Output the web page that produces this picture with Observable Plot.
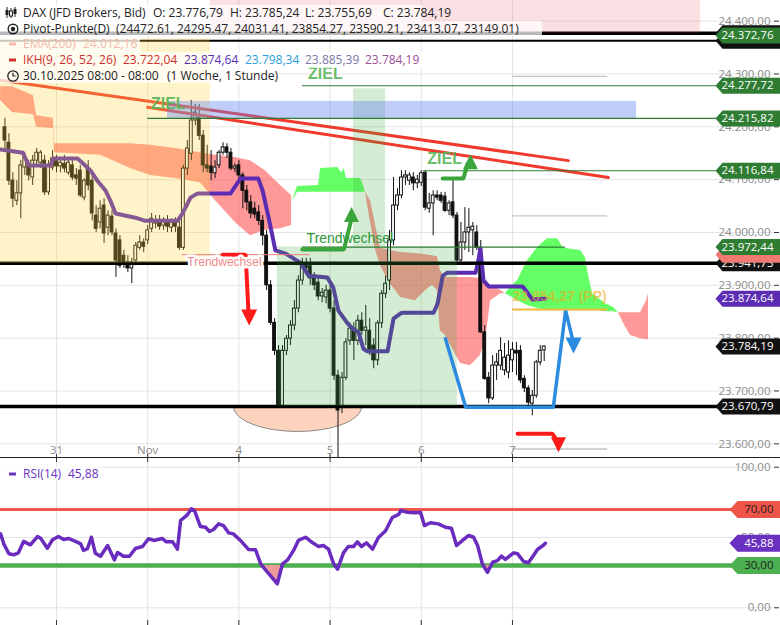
<!DOCTYPE html>
<html>
<head>
<meta charset="utf-8">
<script src="https://cdn.jsdelivr.net/npm/d3@7"></script>
<script src="https://cdn.jsdelivr.net/npm/@observablehq/plot@0.6"></script>
<style>
html,body{margin:0;padding:0;background:#fff;}
#wrap{position:relative;width:780px;height:625px;overflow:hidden;font-family:"Open Sans",sans-serif;}
#price,#rsi{position:absolute;left:0;}
#price{top:0;} #rsi{top:458px;}
#sep{position:absolute;left:0;top:457px;width:780px;height:1.3px;background:#222;}
.lrow{position:absolute;left:0;height:15.7px;background:rgba(255,255,255,0.72);font-size:12px;line-height:15.7px;white-space:pre;color:#222;}
.lrow span{position:absolute;top:0;}
.lrow svg{position:absolute;}
</style>
</head>
<body>
<div id="wrap">
  <div id="price"></div>
  <div id="sep"></div>
  <div id="rsi"></div>
  <div id="legend"></div>
</div>
<script>
// ---------------- DATA ----------------
const dayIdx = [0, 23, 46, 69, 92, 115];
const dayLabels = ["31", "Nov", "4", "5", "6", "7"];
const priceTicks = [23600, 23700, 23800, 23900, 24000, 24100, 24200, 24300, 24400];
const rsiTicks = [0, 50, 100];

const firstBar = -13; // hourly bars, bar 0 = 31 Oct
const candleOpen = [
24199,24170,24098,24060,24074,24123,24127,24104,24136,24132,24136,24076,24123,
24136,24125,24130,24113,24127,24108,24117,24066,24121,24098,
24032,24019,24051,24009,24030,23998,23985,23956,23943,23932,
23947,23971,23981,23985,24007,24022,24019,24013,24019,24009,
24019,24009,23971,24121,24149,24212,24216,24183,24127,24125,
24112,24127,24151,24161,24151,24121,24127,24108,24079,24057,
24045,24038,24022,23994,23900,23829,23776,23672,23776,23799,
23824,23856,23909,23937,23936,23913,23905,23879,23877,23890,
23856,23729,23669,23725,23795,23818,23795,23833,23814,23814,
23786,23758,23828,23884,23909,23985,24051,24070,24104,24098,
24104,24093,24094,24113,24045,24055,24070,24070,24068,24041,
24057,24032,23947,23981,24000,24004,24000,23971,23811,23725,
23686,23748,23748,23739,23735,23758,23776,23776,23723,23705,
23676,23691,23754,23776.79];
const candleHigh = [
24216,24187,24113,24098,24136,24151,24136,24146,24159,24155,24146,24136,24155,
24146,24140,24146,24140,24136,24121,24127,24102,24136,24113,
24051,24060,24064,24041,24041,24007,23994,23966,23956,23951,
23981,23994,23988,24013,24036,24032,24032,24028,24032,24026,
24028,24022,24127,24174,24250,24242,24242,24193,24165,24155,
24136,24155,24170,24168,24159,24130,24136,24113,24089,24070,
24057,24051,24032,24004,23909,23837,23786,23786,23805,23833,
23871,23918,23951,23951,23951,23924,23918,23894,23900,23900,
23871,23739,23735,23799,23829,23829,23843,23848,23862,23837,
23799,23833,23890,23918,24004,24104,24083,24117,24117,24113,
24113,24108,24117,24117,24074,24079,24079,24076,24076,24060,
24098,24038,24019,24047,24045,24019,24013,23985,23824,23735,
23767,23771,23801,23790,23795,23792,23792,23786,23729,23710,
23701,23758,23786,23785.24];
const candleLow = [
24155,24089,24047,24051,24026,24108,24098,24089,24127,24121,24070,24070,24117,
24113,24113,24113,24108,24098,24089,24066,24060,24079,24022,
24000,24007,23979,23994,23994,23915,23932,23932,23924,23903,
23937,23966,23962,23977,24000,24007,24004,24004,24000,24000,
24000,23966,23966,24108,24136,24202,24174,24113,24113,24098,
24102,24121,24146,24140,24117,24113,24102,24045,24041,24026,
24026,24013,23975,23890,23824,23767,23667,23667,23767,23786,
23814,23848,23900,23924,23900,23890,23871,23867,23865,23848,
23720,23574,23657,23720,23786,23758,23786,23805,23786,23767,
23742,23748,23818,23875,23890,23975,24041,24064,24089,24089,
24079,24083,24087,24041,24036,23994,24060,24055,24038,24032,
24026,23943,23941,23966,23962,23956,23966,23809,23720,23676,
23682,23720,23739,23729,23723,23735,23729,23714,23697,23672,
23653,23686,23748,23755.69];
const candleClose = [
24174,24098,24064,24074,24127,24142,24108,24136,24151,24151,24076,24127,24140,
24125,24132,24121,24132,24104,24102,24070,24098,24089,24036,
24007,24045,23998,24032,24000,23947,23937,23941,23932,23943,
23975,23981,23973,24004,24026,24017,24011,24020,24011,24019,
24011,23971,24121,24159,24212,24227,24183,24127,24121,24113,
24123,24151,24161,24151,24121,24125,24108,24079,24057,24036,
24034,24022,23994,23900,23829,23776,23672,23776,23799,23824,
23856,23909,23937,23932,23913,23900,23879,23886,23890,23856,
23729,23663,23725,23792,23818,23795,23833,23814,23820,23773,
23758,23828,23884,23903,23985,24051,24070,24104,24108,24108,
24093,24100,24112,24047,24055,24070,24066,24060,24041,24055,
24032,23947,23981,24000,24009,24011,23971,23811,23723,23686,
23748,23754,23776,23763,23767,23778,23771,23720,23705,23678,
23691,23754,23776,23784.19];

// Kijun-sen (IKH) vertices
const kijunIdx = [-14.1,-8.5,-7,-1.5,-0.8,5.3,6.5,8.6,10.3,12.4,13.6,14.9,19.9,22.4,30.5,31.8,33.8,35.6,43.9,46.4,50.9,52,53.5,55.2,57.8,61.5,63.6,68.3,69.8,71.1,73.4,74.7,76.2,77.4,78.4,83.5,85,86.8,87.5,95.1,96.1,97.4,98.6,105.7,106.4,106.9,107.7,109,117.5,118.8,120,123.3];
const kijunVal = [24157,24151,24127,24127,24140,24140,24132,24117,24098,24079,24060,24036,24028,24022,24022,24036,24066,24074,24074,24102,24102,24079,24028,23966,23960,23943,23918,23915,23896,23852,23828,23818,23811,23780,23775,23775,23837,23847,23848,23848,23865,23918,23924,23924,23947,23970,23909,23898,23898,23886,23873,23874.64];

// Ichimoku cloud (segments)
const cloudSegKind = {1:"bear", 2:"bull", 3:"bear", 4:"bull", 5:"bear"};
const cloudSeg = [1,1,1,1,1,1,1,1,1,1,1,1,1,1,1,1,1, 2,2,2,2,2,2,2,2,2,2,2, 3,3,3,3,3,3,3,3,3,3,3,3,3,3,3,3,3,3,3, 4,4,4,4,4,4,4,4,4,4,4,4,4,4,4,4, 5,5,5,5,5,5];
const cloudIdx = [-14.1,-11.1,-5.8,-5.0,-0.8,-0.5,11.1,18.7,23.7,30.0,36.3,40.1,45.1,48.9,52.7,56.5,59.3,
  59.5,60.8,66.1,66.6,70.9,71.9,72.6,73.1,76.7,77.4,77.9,
  77.9,79.2,80.5,81.7,84.2,86.8,90.5,93.1,94.8,96.1,96.8,98.1,101.9,104.4,106.9,108.2,109.5,112,113.2,
  113.2,115,116.3,118.8,121.3,123.8,126.4,127.9,132.2,133.4,134.2,135.2,136.4,138.5,140.5,141.7,
  141.7,143.3,144.8,147.3,148.8,149.3];
const cloudTop = [24276,24276,24259,24221,24216,24168,24168,24168,24165,24159,24151,24146,24142,24136,24117,24089,24070,
  24060,24087,24089,24121,24123,24113,24121,24102,24102,24089,24076,
  24076,24060,24013,23970,23966,23962,23960,23958,23956,23954,23928,23915,23915,23915,23913,23909,23900,23890,23884,
  23884,23900,23909,23947,23971,23988,23988,23970,23966,23952,23918,23884,23877,23865,23858,23848,
  23848,23848,23848,23848,23871,23884];
const cloudBot = [24250,24227,24223,24199,24197,24151,24146,24121,24108,24102,24094,24060,24019,23994,24004,24007,24013,
  24060,24076,24076,24076,24076,24076,24076,24076,24076,24076,24076,
  24076,24019,23966,23937,23903,23877,23871,23890,23900,23890,23814,23805,23752,23748,23767,23795,23871,23884,23884,
  23884,23877,23871,23862,23856,23852,23852,23852,23852,23852,23852,23852,23852,23850,23850,23848,
  23848,23824,23805,23799,23797,23797];

// RSI(14)
const rsiIdx = [-14.1,-13.3,-12.0,-10.8,-9.6,-8.3,-6.6,-4.8,-4.0,-2.3,-1.0,0.5,1.8,3.0,4.8,6.1,6.8,7.8,8.8,9.8,11.1,12.9,14.6,15.4,16.9,18.4,19.9,21.7,23.2,24.5,26.7,27.7,29.3,30.5,31.3,33.0,34.0,34.8,36.3,37.6,38.6,39.6,40.9,42.1,43.4,44.6,46.4,48.4,50.2,51.5,53.2,55.7,57.0,58.3,59.8,61.0,62.8,64.6,66.1,67.3,68.6,69.9,70.9,72.4,73.6,74.9,75.9,76.9,78.2,79.7,81.2,83.0,84.7,86.3,86.8,88.5,90.5,91.8,92.8,94.3,96.3,98.1,99.6,100.9,102.4,103.9,105.2,106.2,107.4,108.7,110.0,111.2,112.2,113.2,115.3,116.3,117.8,119.0,120.3,121.3,122.8,123.3];
const rsiVal = [52.6,45.5,38.4,37.7,39.1,47.2,44.8,50.7,49.5,42.4,48.4,50.7,48.6,49.3,47.2,45.5,40.8,42.0,50.2,38.8,36.7,44.3,34.1,39.3,36.7,36.7,42.2,43.6,49.1,47.9,49.3,46.9,46.9,41.7,62.1,66.1,70.4,69.2,57.8,57.3,54.3,55.7,59.7,58.5,53.3,52.6,47.9,41.5,41.3,31.3,25.3,17.1,31.3,34.1,40.8,47.9,50.2,46.2,43.6,44.3,41.7,31.3,27.5,39.3,43.6,43.6,46.9,43.6,46.2,41.7,50.0,54.8,64.2,66.4,69.2,68.0,67.6,68.0,58.5,60.5,59.7,57.3,56.6,44.3,47.9,51.4,50.2,44.3,31.3,25.3,32.4,33.6,36.7,34.4,39.1,38.4,32.9,32.0,37.2,41.5,44.5,45.88];
const rsiUpper = 70, rsiLower = 30;

// Trend lines (red)
const trendId = [1, 1, 2, 2];
const trendIdx = [-14.1, 129.1, 23, 139.2];
const trendVal = [24288, 24136, 24237, 24104];

// Zones
const zoneName = ["yellow", "pink", "greenBox", "greenStrip", "blue"];
const zoneStart = [-20, 38.8, 55.7, 74.9, 28];
const zoneEnd = [38.8, 162.4, 101.1, 83, 146.3];
const zoneLow = [23941.73, 24377, 23670.79, 23972.44, 24215.82];
const zoneHigh = [24366, 24480, 23972.44, 24272, 24248];

// Black support/resistance levels
const blackLevels = [23941.73, 23670.79];
const topLevels = [24377, 24363];

// Thin levels
const levelVal = [24277.72, 24215.82, 24116.84, 23972.44, 23958, 24295.47, 24031.41, 23590.21, 23854.27];
const levelStart = [62, 23, 92.5, 62, 31.8, 115, 115, 115, 115];
const levelEnd = [181, 181, 181, 128.4, 64, 139, 139, 139, 139];
const levelKind = ["green", "green", "green", "green", "red", "pivot", "pivot", "pivot", "pp"];

// Pivot points (legend)
const pivotVals = [24472.61, 24295.47, 24031.41, 23854.27, 23590.21, 23413.07, 23149.01];
const ikhVals = [23722.04, 23874.64, 23798.34, 23885.39, 23784.19];
const ema200 = 24012.16;

// Arrows
const arrowId = [1,1,1, 2,2,2, 3,3,3, 4,4,4,4,4, 5,5,5];
const arrowIdx = [41.9,47.7,48.4, 62,72.5,74.2, 97.4,102.6,103.7, 98.1,103.2,125.3,128.4,130.4, 116.3,125.1,126.2];
const arrowVal = [23958,23958,23852, 23968,23968,24020, 24102,24102,24130, 23799,23669,23669,23852,23790, 23619,23619,23606];
const headId = [1, 2, 3, 4, 5];
const headIdx = [48.6, 74.4, 104.4, 130.4, 126.6];
const headVal = [23839, 24034, 24134, 23786, 23598];
const headDir = ["down", "up", "up", "down", "down"];

// Annotations
const annText = ["ZIEL", "ZIEL", "ZIEL", "Trendwechsel", "Trendwechsel"];
const annIdx = [28.2, 67.8, 97.9, 74.0, 33.0];
const annVal = [24244, 24301, 24139, 23989, 23943];
const ppLabelIdx = 115, ppLabelVal = 23879;

// Right-edge value flags
const flagVal = [24377, 24363, 24372.76, 24277.72, 24215.82, 24116.84, 23941.73, 23958, 23972.44, 23874.64, 23784.19, 23670.79];
const flagKind = ["black","black","green","green","green","green","black","salmon","green","purple","black","black"];
const flagShowText = [false,false,true,true,true,true,true,false,true,true,true,true];
const rsiFlagVal = [70, 30, 45.88];
const rsiFlagKind = ["red", "green", "purple"];

// ---------------- HELPERS ----------------
const loc = d3.formatLocale({decimal: ",", thousands: ".", grouping: [3], currency: ["", ""]});
const fmt = loc.format(",.2f");
const sym = pts => ({draw(ctx) { ctx.moveTo(pts[0][0], pts[0][1]); for (let k = 1; k < pts.length; k++) ctx.lineTo(pts[k][0], pts[k][1]); ctx.closePath(); }});
const priceFlag = sym([[-58,0],[-51,-8],[7,-8],[7,8],[-51,8]]);
const rsiFlag = sym([[-44,0],[-36,-8.5],[7,-8.5],[7,8.5],[-36,8.5]]);
const triDown = r => sym([[-r,-r],[r,-r],[0,r]]);
const triUp = r => sym([[-r,r],[r,r],[0,-r]]);
const halfEllipse = {draw(ctx) { const rx = 64, ry = 25, k = 0.5523; ctx.moveTo(-rx, 0); ctx.bezierCurveTo(-rx, k*ry, -k*rx, ry, 0, ry); ctx.bezierCurveTo(k*rx, ry, rx, k*ry, rx, 0); }};

const flagColors = {black: "#111111", green: "#2e7d32", purple: "#5b2db3", salmon: "#f07a72", red: "#f0554a"};
const zoneStyle = {yellow: ["#ffd23c", 0.27], pink: ["#e65064", 0.18], greenBox: ["#3caa3c", 0.22], greenStrip: ["#3caa3c", 0.22], blue: ["#6482f0", 0.4]};
const levelStyle = {green: ["#2e7d32", 1.2], red: ["#f07a7a", 1], pivot: ["#c4c4c4", 1.3], pp: ["#f6b83c", 2]};
const arrowColor = {1: "#ff1a1a", 2: "#3aa53a", 3: "#3aa53a", 4: "#2a8be0", 5: "#ff1a1a"};
const headR = {1: 8, 2: 7.5, 3: 7.5, 4: 8, 5: 7.5};

// ---------------- BUILD ----------------
const candles = candleOpen.map((o, k) => ({i: firstBar + k, o, h: candleHigh[k], l: candleLow[k], c: candleClose[k]}));
const upC = candles.filter(d => d.c >= d.o), dnC = candles.filter(d => d.c < d.o);
const kijun = kijunIdx.map((i, k) => ({i, v: kijunVal[k]}));
const cloud = cloudIdx.map((i, k) => ({seg: cloudSeg[k], i, top: cloudTop[k], bot: cloudBot[k]}));
const zones = zoneName.map((n, k) => ({n, x1: zoneStart[k], x2: zoneEnd[k], y1: zoneLow[k], y2: zoneHigh[k]}));
const levels = levelVal.map((v, k) => ({v, x1: levelStart[k], x2: levelEnd[k], kind: levelKind[k]}));
const trends = trendIdx.map((i, k) => ({id: trendId[k], i, v: trendVal[k]}));
const arrows = arrowIdx.map((i, k) => ({id: arrowId[k], i, v: arrowVal[k]}));
const heads = headIdx.map((i, k) => ({id: headId[k], i, v: headVal[k], dir: headDir[k]}));
const anns = annText.map((t, k) => ({t, i: annIdx[k], v: annVal[k]}));
const rsi = rsiIdx.map((i, k) => ({i, v: rsiVal[k]}));
const xDomain = [-14.12, 180.83];

const priceMarks = [
  Plot.ruleY(priceTicks, {stroke: "#e4e4e4"}),
  Plot.ruleX(dayIdx, {stroke: "#e4e4e4"}),
  Plot.dot([{i: 60.8, v: blackLevels[1]}], {x: "i", y: "v", r: 1, symbol: halfEllipse, fill: "#fdd3bd", stroke: "#8a8a8a", strokeWidth: 1}),
];
for (const kind of ["bear", "bull"]) {
  priceMarks.push(Plot.areaY(cloud.filter(d => cloudSegKind[d.seg] === kind), {
    x: "i", y1: "bot", y2: "top", z: "seg",
    fill: kind === "bear" ? "#ff4646" : "#5cff5c", fillOpacity: kind === "bear" ? 0.55 : 0.95
  }));
}
priceMarks.push(
  Plot.ruleX(candles, {x: "i", y1: "l", y2: "h", stroke: "#111", strokeWidth: 1, clip: true}),
  Plot.rect(dnC, {x1: d => d.i - 0.36, x2: d => d.i + 0.36, y1: "c", y2: "o", fill: "#111", stroke: "#111", strokeWidth: 1}),
  Plot.rect(upC, {x1: d => d.i - 0.36, x2: d => d.i + 0.36, y1: "o", y2: "c", fill: "#fff", stroke: "#111", strokeWidth: 1}),
  Plot.line(kijun, {x: "i", y: "v", stroke: "#5b2db3", strokeWidth: 4, strokeLinejoin: "round", strokeLinecap: "round"}),
  Plot.line(trends, {x: "i", y: "v", z: "id", stroke: "#f03a2e", strokeWidth: 3}),
  Plot.ruleY(blackLevels, {stroke: "#000", strokeWidth: 3.5}),
  Plot.ruleY([topLevels[0]], {stroke: "#000", strokeWidth: 3.5}),
  Plot.ruleY([topLevels[1]], {stroke: "#000", strokeWidth: 2})
);
for (const z of zones) {
  priceMarks.push(Plot.rect([z], {x1: "x1", x2: "x2", y1: "y1", y2: "y2", fill: zoneStyle[z.n][0], fillOpacity: zoneStyle[z.n][1], clip: true}));
}
for (const kind of Object.keys(levelStyle)) {
  priceMarks.push(Plot.ruleY(levels.filter(d => d.kind === kind), {y: "v", x1: "x1", x2: "x2", stroke: levelStyle[kind][0], strokeWidth: levelStyle[kind][1], clip: true}));
}
for (const id of headId) {
  priceMarks.push(Plot.line(arrows.filter(d => d.id === id), {x: "i", y: "v", stroke: arrowColor[id], strokeWidth: id === 4 ? 3.5 : 4, strokeLinejoin: "miter"}));
  const h = heads.filter(d => d.id === id);
  priceMarks.push(Plot.dot(h, {x: "i", y: "v", r: 1, symbol: h[0].dir === "up" ? triUp(headR[id]) : triDown(headR[id]), fill: arrowColor[id], stroke: "none"}));
}
priceMarks.push(
  Plot.text(anns.filter(d => d.t === "ZIEL"), {x: "i", y: "v", text: "t", fill: "#55b455", fillOpacity: 0.9, fontSize: 16, fontWeight: "bold", fontFamily: "Liberation Sans"}),
  Plot.text(anns.filter((d, k) => k === 3), {x: "i", y: "v", text: "t", fill: "#2e9a3a", fontSize: 14, fontFamily: "Liberation Sans"}),
  Plot.text(anns.filter((d, k) => k === 4), {x: "i", y: "v", text: "t", textAnchor: "start", fill: "#f08a8a", fontSize: 12, fontFamily: "Liberation Sans", stroke: "#fff", strokeWidth: 5, paintOrder: "stroke"}),
  Plot.text([{i: ppLabelIdx, v: ppLabelVal, t: fmt(pivotVals[3]) + " (PP)"}], {x: "i", y: "v", text: "t", textAnchor: "start", fill: "#f5a623", fillOpacity: 0.6, fontSize: 14, fontWeight: "bold", fontFamily: "Liberation Sans"}),
  Plot.axisY({ticks: priceTicks, anchor: "right", tickSize: 5, tickFormat: () => "", stroke: "#333", label: null}),
  Plot.axisY({ticks: priceTicks, anchor: "right", tickSize: 0, textAnchor: "end", dx: -12, tickFormat: fmt, color: "#8c8c8c", fontSize: 11.5, label: null}),
  Plot.axisX({ticks: dayIdx, anchor: "bottom", tickSize: 0, dy: -21, tickFormat: d => dayLabels[dayIdx.indexOf(d)], color: "#8c8c8c", fontSize: 11.5, label: null}),
  Plot.tickX(dayIdx, {x: d => d, stroke: "#333", insetTop: 454})
);
flagVal.forEach((v, k) => {
  priceMarks.push(Plot.dot([v], {y: d => d, frameAnchor: "right", r: 1, symbol: priceFlag, fill: flagColors[flagKind[k]], stroke: "none"}));
  if (flagShowText[k]) priceMarks.push(Plot.text([v], {y: d => d, frameAnchor: "right", text: d => fmt(d), textAnchor: "end", fill: "#fff", fontSize: 11.5}));
});

const pricePlot = Plot.plot({
  width: 780, height: 457, marginTop: 0, marginBottom: 0, marginLeft: 0, marginRight: 7,
  x: {domain: xDomain}, y: {domain: [23574.1, 24439.1]},
  style: {background: "transparent", fontFamily: "Open Sans"},
  marks: priceMarks
});
document.getElementById("price").appendChild(pricePlot);

const rsiMarks = [
  Plot.ruleY(rsiTicks, {stroke: "#e4e4e4"}),
  Plot.ruleX(dayIdx, {stroke: "#e4e4e4"}),
  Plot.tickX(dayIdx, {x: d => d, stroke: "#333", insetBottom: 163}),
  Plot.tickX(dayIdx, {x: d => d, stroke: "#333", insetTop: 162}),
  Plot.ruleY([rsiUpper], {stroke: "#f4574c", strokeWidth: 3}),
  Plot.ruleY([rsiLower], {stroke: "#4caf50", strokeWidth: 4.5}),
  Plot.areaY(rsi, {x: "i", y1: () => rsiLower, y2: d => Math.min(d.v, rsiLower), fill: "#ee9a9a"}),
  Plot.line(rsi, {x: "i", y: "v", stroke: "#6a2bbf", strokeWidth: 3.5, strokeLinejoin: "round"}),
  Plot.axisY({ticks: rsiTicks, anchor: "right", tickSize: 5, tickFormat: () => "", stroke: "#333", label: null}),
  Plot.axisY({ticks: rsiTicks, anchor: "right", tickSize: 0, textAnchor: "end", dx: -12, tickFormat: fmt, color: "#8c8c8c", fontSize: 11.5, label: null})
];
rsiFlagVal.forEach((v, k) => {
  rsiMarks.push(Plot.dot([v], {y: d => d, frameAnchor: "right", r: 1, symbol: rsiFlag, fill: rsiFlagKind[k] === "purple" ? "#6a30c0" : (rsiFlagKind[k] === "red" ? "#f0554a" : "#4caf50"), stroke: "none"}));
  rsiMarks.push(Plot.text([v], {y: d => d, frameAnchor: "right", text: d => fmt(d), textAnchor: "end", fill: rsiFlagKind[k] === "purple" ? "#fff" : "#222", fontSize: 11.5}));
});
const rsiPlot = Plot.plot({
  width: 780, height: 167, marginTop: 0, marginBottom: 0, marginLeft: 0, marginRight: 7,
  x: {domain: xDomain, axis: null}, y: {domain: [-12.6, 106.2]},
  style: {background: "transparent", fontFamily: "Open Sans"},
  marks: rsiMarks
});
document.getElementById("rsi").appendChild(rsiPlot);

// ---------------- LEGEND ----------------
const last = candles[candles.length - 1];
const icons = {
  candle: '<svg width="14" height="13" style="left:4px;top:1px"><line x1="3" y1="1" x2="3" y2="12" stroke="#222"/><rect x="1.5" y="4" width="3" height="5" fill="#222"/><line x1="7" y1="2" x2="7" y2="12" stroke="#222"/><rect x="5.5" y="5" width="3" height="5" fill="#fff" stroke="#222"/><line x1="11" y1="1" x2="11" y2="11" stroke="#222"/><rect x="9.5" y="3" width="3" height="5" fill="#222"/></svg>',
  pivot: '<svg width="14" height="14" style="left:6px;top:1px"><circle cx="7" cy="7" r="4.8" fill="none" stroke="#222" stroke-width="1.4"/><circle cx="7" cy="7" r="2.2" fill="#222"/></svg>',
  ema: '<svg width="10" height="14" style="left:9px;top:1px"><rect x="0" y="5.5" width="7" height="3" fill="#f6b9ae"/></svg>',
  ikh: '<svg width="10" height="14" style="left:9px;top:1px"><rect x="0" y="5.5" width="7" height="3" fill="#d0302a"/></svg>',
  clock: '<svg width="14" height="14" style="left:6px;top:1px"><circle cx="7" cy="7" r="5.2" fill="none" stroke="#222" stroke-width="1.3"/><path d="M7 3.8V7h2.6" fill="none" stroke="#222" stroke-width="1.2"/></svg>',
  rsi: '<svg width="10" height="14" style="left:9px;top:1px"><rect x="0" y="5.5" width="7" height="3" fill="#6a30c0"/></svg>'
};
const legendRows = [
  {top: 5, w: 422, icon: "candle", parts: [[23, "DAX (JFD Brokers, Bid)", "#222"], [153, "O: " + fmt(last.o), "#222"], [230, "H: " + fmt(last.h), "#222"], [305, "L: " + fmt(last.l), "#222"], [383, "C: " + fmt(last.c), "#222"]]},
  {top: 20.7, w: 542, icon: "pivot", parts: [[23, "Pivot-Punkte(D)", "#222"], [116, "(" + pivotVals.map(v => v.toFixed(2)).join(", ") + ")", "#222"]]},
  {top: 36.4, w: 140, icon: "ema", parts: [[23, "EMA(200)", "#f6b9ae"], [83, fmt(ema200), "#f6b9ae"]]},
  {top: 52.1, w: 422, icon: "ikh", parts: [[23, "IKH(9, 26, 52, 26)", "#d0302a"], [123, fmt(ikhVals[0]), "#d0302a"], [184, fmt(ikhVals[1]), "#5b2db3"], [245, fmt(ikhVals[2]), "#29a0d8"], [305, fmt(ikhVals[3]), "#7a78a8"], [365, fmt(ikhVals[4]), "#9c4f9a"]]},
  {top: 67.8, w: 280, icon: "clock", parts: [[23, "30.10.2025 08:00 - 08:00", "#222"], [167, "(1 Woche, 1 Stunde)", "#222"]]},
  {top: 465.5, w: 102, icon: "rsi", parts: [[23, "RSI(14)", "#6a30c0"], [68, fmt(rsiVal[rsiVal.length - 1]), "#6a30c0"]]}
];
const legend = document.getElementById("legend");
for (const r of legendRows) {
  const row = document.createElement("div");
  row.className = "lrow";
  row.style.top = r.top + "px";
  row.style.width = r.w + "px";
  let html = icons[r.icon];
  for (const [x, t, c] of r.parts) html += `<span style="left:${x}px;color:${c}">${t}</span>`;
  row.innerHTML = html;
  legend.appendChild(row);
}
</script>
</body>
</html>
